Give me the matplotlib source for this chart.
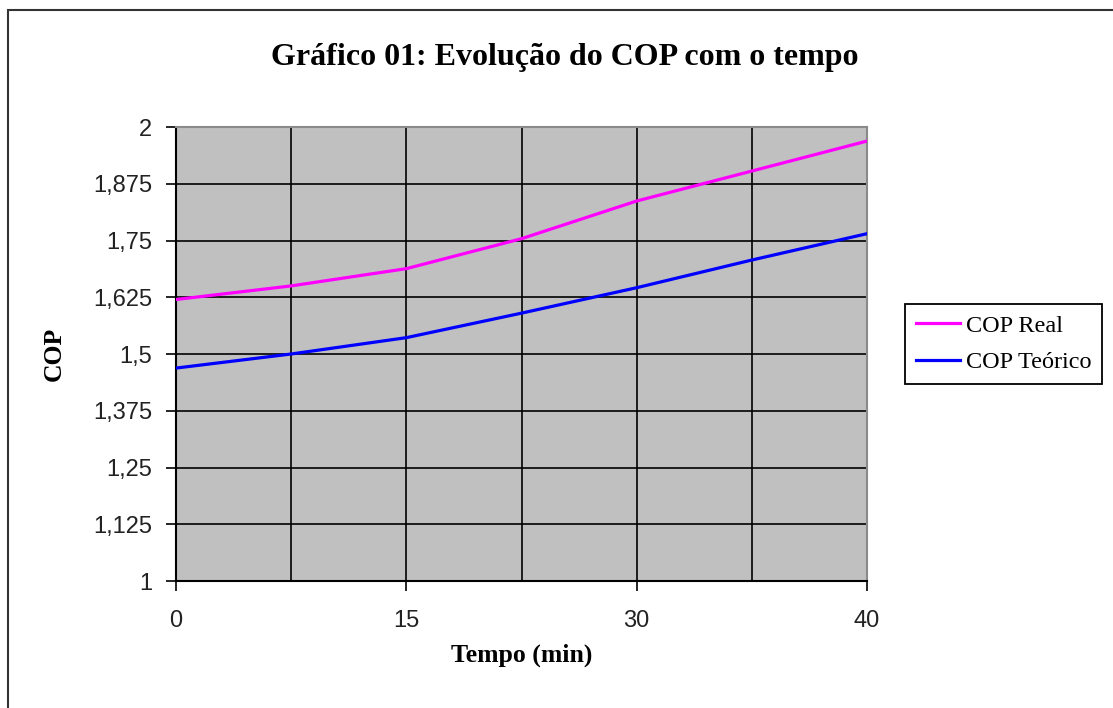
import matplotlib.pyplot as plt
from matplotlib.patches import Rectangle
from matplotlib.ticker import FixedLocator, FuncFormatter

# dados (eixo de categorias, 7 pontos)
tempo_rotulos = ['0', '', '15', '', '30', '', '40']
cop_real = [1.620, 1.650, 1.688, 1.754, 1.837, 1.903, 1.969]
cop_teorico = [1.469, 1.500, 1.536, 1.590, 1.646, 1.707, 1.765]
y_ticks = [1, 1.125, 1.25, 1.375, 1.5, 1.625, 1.75, 1.875, 2]

serif = 'Liberation Serif'
sans = 'Liberation Sans'

fig = plt.figure(figsize=(11.13, 7.08), dpi=100)
ax = fig.add_axes([176/1113, 1-581/708, (867-176)/1113, (581-127)/708])
ax.set_facecolor('#C0C0C0')

x = list(range(len(tempo_rotulos)))
ax.plot(x, cop_real, color='#FF00FF', lw=2.3, label='COP Real', zorder=3)
ax.plot(x, cop_teorico, color='#0000FF', lw=2.3, label='COP Teórico', zorder=3)

ax.set_xlim(0, len(x) - 1)
ax.set_ylim(1, 2)

# grade: todas as categorias, mas rotulos so em algumas
major_x = [i for i, t in enumerate(tempo_rotulos) if t]
ax.xaxis.set_major_locator(FixedLocator(major_x))
ax.set_xticklabels([tempo_rotulos[i] for i in major_x])
ax.xaxis.set_minor_locator(FixedLocator(x))
ax.yaxis.set_major_locator(FixedLocator(y_ticks))
ax.yaxis.set_major_formatter(FuncFormatter(lambda v, p: f'{v:g}'.replace('.', ',')))

ax.grid(True, which='both', axis='x', color='black', lw=1.2, zorder=1)
ax.grid(True, which='major', axis='y', color='black', lw=1.2, zorder=1)
ax.set_axisbelow(True)

ax.tick_params(axis='both', which='major', direction='out', length=7, width=1.2,
               labelsize=17, colors='black')
ax.tick_params(axis='x', which='major', pad=14)
ax.tick_params(axis='y', which='major', pad=10)
ax.tick_params(axis='x', which='minor', length=0)
for lab in ax.get_xticklabels() + ax.get_yticklabels():
    lab.set_fontfamily(sans)
    lab.set_color('#222222')

for s in ['left', 'bottom']:
    ax.spines[s].set_color('black')
    ax.spines[s].set_linewidth(1.5)
for s in ['top', 'right']:
    ax.spines[s].set_color('#8a8a8a')
    ax.spines[s].set_linewidth(1.5)

fig.text(565/1113, 1-57/708, 'Gráfico 01: Evolução do COP com o tempo', ha='center', va='center',
         fontsize=23, fontweight='bold', family=serif)
ax.set_xlabel('Tempo (min)', fontsize=18.5, fontweight='bold', family=serif, labelpad=8)
ax.set_ylabel('COP', fontsize=18.5, fontweight='bold', family=serif, labelpad=20)

leg = ax.legend(loc='center left', bbox_to_anchor=(905/1113, 1-344/708), bbox_transform=fig.transFigure,
                frameon=True, fancybox=False, framealpha=1, edgecolor='black',
                prop={'family': serif, 'size': 17.5}, handlelength=1.8, handletextpad=0.25,
                borderpad=0.45, labelspacing=0.6, borderaxespad=0)
leg.get_frame().set_linewidth(1.3)

# moldura do grafico
fig.patches.append(Rectangle((8/1113, -0.1), 1.2, 1.1 - 10/708, transform=fig.transFigure,
                             fill=False, edgecolor='#333333', lw=1.5))

fig.savefig('out.png', dpi=100)
